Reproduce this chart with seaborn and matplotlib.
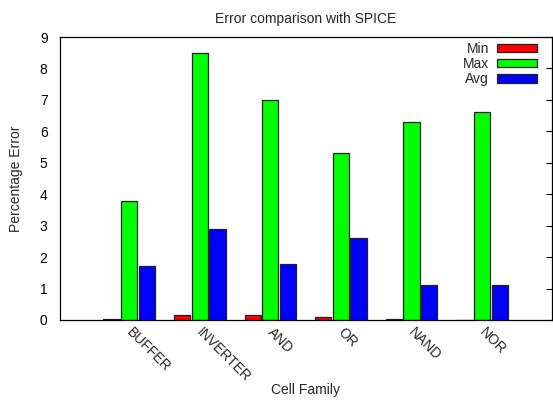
import numpy as np
import pandas as pd
import matplotlib
matplotlib.use("Agg")
import matplotlib.pyplot as plt
import matplotlib.transforms as mtrans
import seaborn as sns
from matplotlib.patches import Patch

# data
families = ["BUFFER", "INVERTER", "AND", "OR", "NAND", "NOR"]
err_min = [0.02, 0.15, 0.17, 0.10, 0.02, 0.01]
err_max = [3.8, 8.5, 7.0, 5.3, 6.3, 6.6]
err_avg = [1.72, 2.9, 1.77, 2.6, 1.12, 1.12]
series = ["Min", "Max", "Avg"]
colors = ["#ff0000", "#00ff00", "#0000ff"]

df = pd.DataFrame({"family": families, "Min": err_min, "Max": err_max, "Avg": err_avg})
long_df = df.melt(id_vars="family", var_name="stat", value_name="err")

sns.set_style("white")
plt.rcParams["font.family"] = ["Liberation Sans", "DejaVu Sans"]

fig = plt.figure(figsize=(5.53, 4.01), dpi=100)
ax = fig.add_axes([0.1085, 0.202, 0.8897, 0.7057])

sns.barplot(
    data=long_df, x="family", y="err", hue="stat", order=families,
    hue_order=series, palette=colors, width=0.75, gap=0.08,
    edgecolor="#222222", linewidth=0.9, saturation=1, ax=ax, legend=False,
)

ax.set_xlim(-0.98, 5.99)
ax.set_ylim(0, 9)
ax.set_yticks(range(10))
ax.tick_params(axis="y", direction="in", length=4, width=0.8, right=True,
               labelsize=10, colors="black", pad=9)
ax.tick_params(axis="x", length=0, labelsize=10, pad=4)
ax.set_xticks(range(len(families)))
ax.set_xticklabels(families, rotation=-45, ha="left", va="top", rotation_mode="anchor")
shift = mtrans.ScaledTranslation(3 / 72, 0, fig.dpi_scale_trans)
for lab in ax.get_xticklabels():
    lab.set_transform(lab.get_transform() + shift)
for s in ax.spines.values():
    s.set_visible(True)
    s.set_color("black")
    s.set_linewidth(0.9)

ax.set_title("Error comparison with SPICE", fontsize=10, pad=10)
ax.set_ylabel("Percentage Error", fontsize=10)
ax.yaxis.set_label_coords(-0.075, 0.5)
ax.set_xlabel("Cell Family", fontsize=10, va="center")
ax.xaxis.set_label_coords(0.498, -0.247)

handles = [Patch(facecolor=c, edgecolor="#222222", linewidth=0.9) for c in colors]
ax.legend(handles, series, loc="upper right", frameon=False, markerfirst=False,
          handlelength=2.9, handleheight=0.55, labelspacing=0.1, fontsize=10,
          borderaxespad=0.3, handletextpad=0.6, bbox_to_anchor=(0.99, 1.018))

fig.savefig("out.png", dpi=100)
